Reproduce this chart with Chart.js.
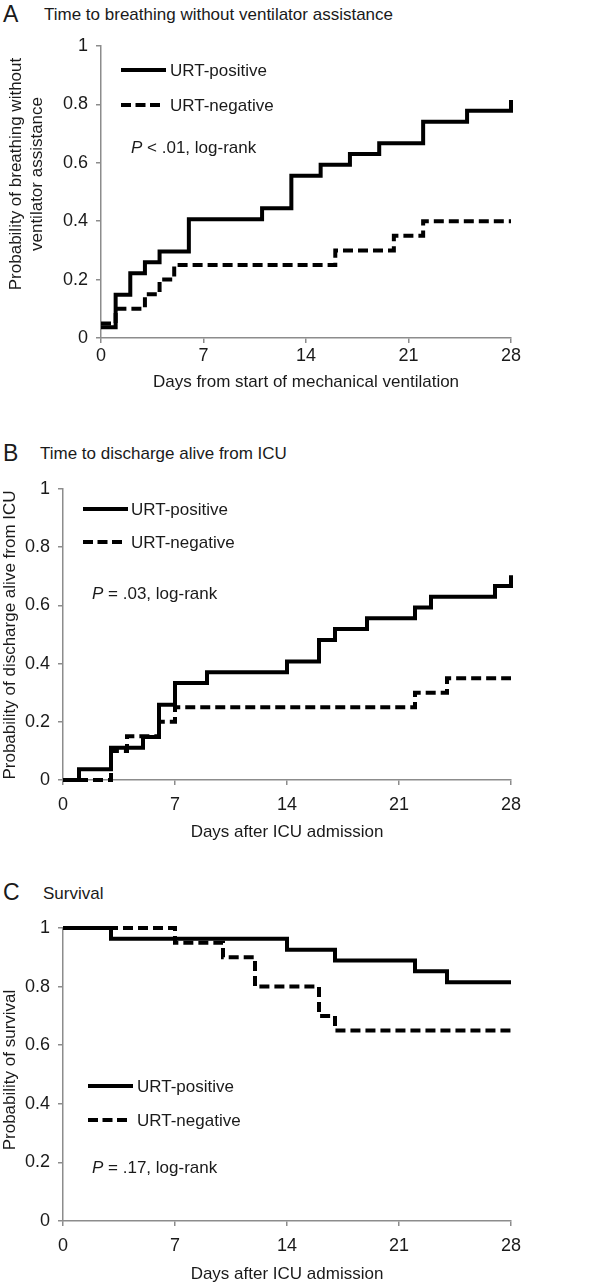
<!DOCTYPE html>
<html>
<head>
<meta charset="utf-8">
<script src="https://cdn.jsdelivr.net/npm/chart.js@4.4.1/dist/chart.umd.min.js"></script>
<style>
  html, body { margin: 0; padding: 0; background: #fff; }
  body { width: 616px; height: 1287px; position: relative; overflow: hidden;
         font-family: "Liberation Sans", Arial, sans-serif; color: #1a1a1a; }
  canvas { position: absolute; left: 0; }
  .letter { position: absolute; left: 3px; font-size: 23px; line-height: 1; }
  .title { position: absolute; font-size: 17px; line-height: 1; white-space: nowrap; }
</style>
</head>
<body>
<div class="letter" style="top:3px">A</div>
<div class="title" style="left:44px;top:6px">Time to breathing without ventilator assistance</div>
<canvas id="panel-a" width="616" height="400" style="top:0"></canvas>

<div class="letter" style="top:442px">B</div>
<div class="title" style="left:40px;top:445px">Time to discharge alive from ICU</div>
<canvas id="panel-b" width="616" height="450" style="top:400px"></canvas>

<div class="letter" style="top:881px">C</div>
<div class="title" style="left:43px;top:885px">Survival</div>
<canvas id="panel-c" width="616" height="437" style="top:850px"></canvas>

<script>
const xTicks = [0, 7, 14, 21, 28];
const yTicks = [0, 0.2, 0.4, 0.6, 0.8, 1];
const groups = ['URT-positive', 'URT-negative'];

// A: breathing without ventilator
const ventDaysPos = [0, 1, 2, 3, 4, 6, 11, 13, 15, 17, 19, 22, 25, 28];
const ventProbPos = [0.037, 0.148, 0.222, 0.259, 0.296, 0.407, 0.444, 0.556, 0.593, 0.630, 0.667, 0.741, 0.778, 0.815];
const ventDaysNeg = [0, 1, 3, 4, 5, 16, 20, 22, 28];
const ventProbNeg = [0.05, 0.10, 0.15, 0.20, 0.25, 0.30, 0.35, 0.40, 0.40];

// B: discharge alive from ICU
const icuDaysPos = [0, 1, 3, 5, 6, 7, 9, 14, 16, 17, 19, 22, 23, 27, 28];
const icuProbPos = [0, 0.037, 0.111, 0.148, 0.259, 0.333, 0.370, 0.407, 0.481, 0.519, 0.556, 0.593, 0.630, 0.667, 0.704];
const icuDaysNeg = [0, 3, 4, 6, 7, 22, 24, 28];
const icuProbNeg = [0, 0.10, 0.15, 0.20, 0.25, 0.30, 0.35, 0.35];

// C: survival
const survDaysPos = [0, 3, 14, 17, 22, 24, 28];
const survProbPos = [1, 0.963, 0.926, 0.889, 0.852, 0.815, 0.815];
const survDaysNeg = [0, 7, 10, 12, 16, 17, 28];
const survProbNeg = [1, 0.95, 0.90, 0.80, 0.70, 0.65, 0.65];

const ink = '#1a1a1a';
const axisGray = '#8c8c8c';
const fontFamily = '"Liberation Sans", Arial, sans-serif';
Chart.defaults.font.family = fontFamily;
Chart.defaults.font.size = 17;
Chart.defaults.color = ink;

function toPoints(days, probs) {
  return days.map((d, i) => ({ x: d, y: probs[i] }));
}

// legend, p-value and y title drawn inside the canvas
const kmNotes = {
  id: 'kmNotes',
  afterDatasetsDraw(chart, args, o) {
    const ctx = chart.ctx;
    ctx.save();
    ctx.fillStyle = ink;
    ctx.strokeStyle = '#000';
    ctx.lineWidth = 4;
    ctx.textBaseline = 'middle';
    ctx.font = '17px ' + fontFamily;
    o.legend.forEach((it, i) => {
      ctx.setLineDash(i === 0 ? [] : [10, 4.5]);
      ctx.beginPath();
      ctx.moveTo(o.lx, it.y);
      ctx.lineTo(o.lx + it.len, it.y);
      ctx.stroke();
      ctx.fillText(groups[i], o.tx, it.y + 1);
    });
    ctx.setLineDash([]);
    ctx.font = 'italic 17px ' + fontFamily;
    ctx.fillText('P', o.px, o.py);
    const pw = ctx.measureText('P').width;
    ctx.font = '17px ' + fontFamily;
    ctx.fillText(o.ptext, o.px + pw, o.py);

    // y axis title
    ctx.translate(o.yt.x, o.yt.y);
    ctx.rotate(-Math.PI / 2);
    ctx.textAlign = 'center';
    o.yt.lines.forEach((l, i) => ctx.fillText(l, 0, i * 21));
    ctx.restore();
  }
};

function kmChart(id, c) {
  return new Chart(document.getElementById(id), {
    type: 'line',
    data: {
      datasets: [
        {
          label: groups[0],
          data: toPoints(c.posDays, c.posProb),
          borderColor: '#000',
          borderWidth: 4,
          stepped: true,
          pointRadius: 0,
          fill: false,
          clip: false,
          borderJoinStyle: 'miter'
        },
        {
          label: groups[1],
          data: toPoints(c.negDays, c.negProb),
          borderColor: '#000',
          borderWidth: 4,
          borderDash: [10, 5],
          stepped: true,
          pointRadius: 0,
          fill: false,
          clip: false,
          borderJoinStyle: 'miter'
        }
      ]
    },
    options: {
      responsive: false,
      animation: false,
      devicePixelRatio: 1,
      layout: { padding: { top: c.padTop, right: c.padRight, left: 0, bottom: 0 } },
      plugins: {
        legend: { display: false },
        tooltip: { enabled: false },
        kmNotes: c.notes
      },
      scales: {
        x: {
          type: 'linear',
          min: 0,
          max: 28,
          afterBuildTicks: s => { s.ticks = xTicks.map(v => ({ value: v })); },
          afterFit: s => { s.height = c.xAxisH; },
          grid: { drawOnChartArea: false, tickLength: 5, color: axisGray, lineWidth: 1.5 },
          border: { color: axisGray, width: 1.5 },
          ticks: { padding: c.xTickPad, maxRotation: 0, autoSkip: false, font: { size: 18 } },
          title: { display: true, text: c.xTitle, padding: { top: 0, bottom: c.xTitlePad } }
        },
        y: {
          min: 0,
          max: 1,
          afterBuildTicks: s => { s.ticks = yTicks.map(v => ({ value: v })); },
          afterFit: s => { s.width = c.yAxisW; },
          grid: { drawOnChartArea: false, tickLength: 5, color: axisGray, lineWidth: 1.5 },
          border: { color: axisGray, width: 1.5 },
          ticks: { padding: 8, callback: v => String(v), font: { size: 18 } },
          title: { display: false }
        }
      }
    },
    plugins: [kmNotes]
  });
}

kmChart('panel-a', {
  posDays: ventDaysPos, posProb: ventProbPos, negDays: ventDaysNeg, negProb: ventProbNeg,
  padTop: 46, padRight: 105, yAxisW: 101, xAxisH: 62, xTickPad: 2, xTitlePad: 7,
  xTitle: 'Days from start of mechanical ventilation',
  notes: {
    lx: 121, tx: 170,
    legend: [{ y: 70, len: 45 }, { y: 105, len: 39 }],
    px: 131, py: 148, ptext: ' < .01, log-rank',
    yt: { x: 16, y: 174, lines: ['Probability of breathing without', 'ventilator assistance'] }
  }
});

kmChart('panel-b', {
  posDays: icuDaysPos, posProb: icuProbPos, negDays: icuDaysNeg, negProb: icuProbNeg,
  padTop: 89, padRight: 105, yAxisW: 63, xAxisH: 70, xTickPad: 9, xTitlePad: 7,
  xTitle: 'Days after ICU admission',
  notes: {
    lx: 83, tx: 131,
    legend: [{ y: 109, len: 45 }, { y: 142, len: 39 }],
    px: 92, py: 194, ptext: ' = .03, log-rank',
    yt: { x: 10, y: 235, lines: ['Probability of discharge alive from ICU'] }
  }
});

kmChart('panel-c', {
  posDays: survDaysPos, posProb: survProbPos, negDays: survDaysNeg, negProb: survProbNeg,
  padTop: 78, padRight: 105, yAxisW: 63, xAxisH: 66, xTickPad: 9, xTitlePad: 2,
  xTitle: 'Days after ICU admission',
  notes: {
    lx: 88, tx: 137,
    legend: [{ y: 236, len: 45 }, { y: 270, len: 39 }],
    px: 92, py: 318, ptext: ' = .17, log-rank',
    yt: { x: 10, y: 220, lines: ['Probability of survival'] }
  }
});
</script>
</body>
</html>
